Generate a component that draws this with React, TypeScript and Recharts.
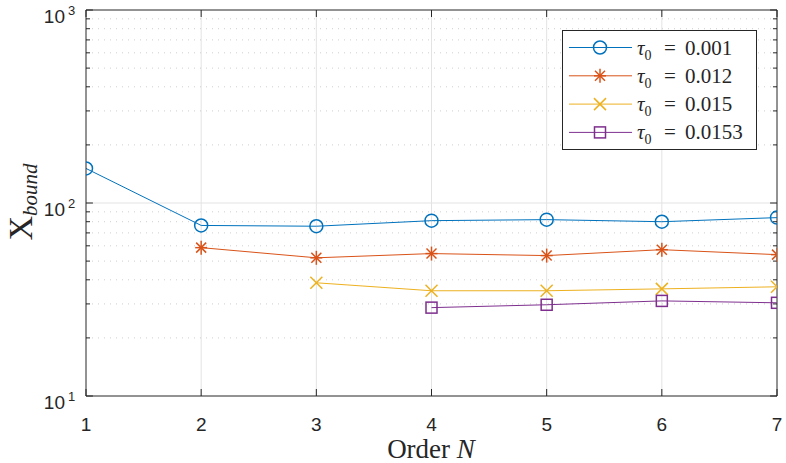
import { ComposedChart, Line, XAxis, YAxis, ReferenceLine } from "recharts";

// values
const orders = [1, 2, 3, 4, 5, 6, 7];
const tau001 = [151, 76.5, 75.8, 81, 82, 80, 84];
const tau012 = [null, 58.7, 52, 54.7, 53.4, 57.3, 54];
const tau015 = [null, null, 38.6, 35.1, 35.1, 35.9, 36.8];
const tau0153 = [null, null, null, 28.7, 29.7, 31.1, 30.4];

const yTicks = [10, 100, 1000];
const minorTicks = [20, 30, 40, 50, 60, 70, 80, 90, 200, 300, 400, 500, 600, 700, 800, 900];

const series = [
  { key: "t1", label: "0.001", color: "#0072BD", marker: "circle", values: tau001 },
  { key: "t2", label: "0.012", color: "#D95319", marker: "star", values: tau012 },
  { key: "t3", label: "0.015", color: "#EDB120", marker: "x", values: tau015 },
  { key: "t4", label: "0.0153", color: "#7E2F8E", marker: "square", values: tau0153 },
];

const data = orders.map((n, i) => {
  const row: any = { n };
  series.forEach(s => { row[s.key] = s.values[i]; });
  return row;
});

const axisColor = "#262626";
const sans = "'Liberation Sans', Arial, sans-serif";
const serif = "'Liberation Serif', 'DejaVu Serif', serif";

function Marker({ type, cx, cy, color }: any) {
  if (type === "circle") return <circle cx={cx} cy={cy} r={6.5} fill="none" stroke={color} strokeWidth={1.5} />;
  if (type === "square") return <rect x={cx - 5.5} y={cy - 5.5} width={11} height={11} fill="none" stroke={color} strokeWidth={1.5} />;
  if (type === "x") {
    return (
      <g stroke={color} strokeWidth={1.5}>
        <line x1={cx - 6} y1={cy - 6} x2={cx + 6} y2={cy + 6} />
        <line x1={cx - 6} y1={cy + 6} x2={cx + 6} y2={cy - 6} />
      </g>
    );
  }
  return (
    <g stroke={color} strokeWidth={1.5}>
      <line x1={cx - 6} y1={cy} x2={cx + 6} y2={cy} />
      <line x1={cx} y1={cy - 7} x2={cx} y2={cy + 7} />
      <line x1={cx - 5} y1={cy - 5} x2={cx + 5} y2={cy + 5} />
      <line x1={cx - 5} y1={cy + 5} x2={cx + 5} y2={cy - 5} />
    </g>
  );
}

const makeDot = (s: any) => (props: any) => {
  const { cx, cy, value, index } = props;
  if (value == null || cx == null || cy == null) return <g key={index} />;
  return <g key={index}><Marker type={s.marker} cx={cx} cy={cy} color={s.color} /></g>;
};

const YTick = ({ y, payload }: any) => {
  const exp = Math.round(Math.log10(payload.value));
  const yy = Math.max(y, 6);
  return (
    <g fill={axisColor} fontFamily={sans}>
      <text x={65} y={yy + 13} textAnchor="end" fontSize={19}>10</text>
      <text x={68} y={yy + 5} textAnchor="start" fontSize={13}>{exp}</text>
    </g>
  );
};

const XTick = ({ x, y, payload }: any) => (
  <text x={x} y={y + 27} textAnchor="middle" fontSize={19} fill={axisColor} fontFamily={sans}>
    {payload.value}
  </text>
);

const LegendBox = () => (
  <svg width={196} height={121} style={{ position: "absolute", left: 562, top: 30 }}>
    <rect x={0.5} y={0.5} width={194} height={119} fill="#fff" stroke={axisColor} strokeWidth={1} />
    {series.map((s, i) => {
      const y = 17.5 + i * 28.3;
      return (
        <g key={s.key}>
          <line x1={7} y1={y} x2={70} y2={y} stroke={s.color} strokeWidth={1} />
          <Marker type={s.marker} cx={38} cy={y} color={s.color} />
          <text y={y + 7} fontSize={21} fill={axisColor} fontFamily={serif}>
            <tspan x={75} fontStyle="italic">τ</tspan>
            <tspan fontSize={14} dy={5}>0</tspan>
            <tspan x={102} dy={-5}>=</tspan>
            <tspan x={123}>{s.label}</tspan>
          </text>
        </g>
      );
    })}
  </svg>
);

export default function App() {
  return (
    <div style={{ width: 786, height: 463, position: "relative", background: "#fff" }}>
      <style>{"body{margin:0}"}</style>
      <ComposedChart width={786} height={463} data={data} margin={{ top: 10, right: 9, left: 0, bottom: 0 }}>
        {[2, 3, 4, 5, 6].map(v => (
          <ReferenceLine key={"vx" + v} x={v} stroke="#e3e3e3" strokeWidth={1} />
        ))}
        {minorTicks.map(v => (
          <ReferenceLine key={"mg" + v} y={v} stroke="#cfcfcf" strokeDasharray="1 5" strokeWidth={1} />
        ))}
        <ReferenceLine y={100} stroke="#e3e3e3" strokeWidth={1} />
        {minorTicks.map(v => (
          <ReferenceLine key={"ml" + v} segment={[{ x: 1, y: v }, { x: 1.035, y: v }]} stroke={axisColor} strokeWidth={1} />
        ))}
        {minorTicks.map(v => (
          <ReferenceLine key={"mr" + v} segment={[{ x: 6.965, y: v }, { x: 7, y: v }]} stroke={axisColor} strokeWidth={1} />
        ))}
        {yTicks.map(v => (
          <ReferenceLine key={"jl" + v} segment={[{ x: 1, y: v }, { x: 1.06, y: v }]} stroke={axisColor} strokeWidth={1} />
        ))}
        {yTicks.map(v => (
          <ReferenceLine key={"jr" + v} segment={[{ x: 6.94, y: v }, { x: 7, y: v }]} stroke={axisColor} strokeWidth={1} />
        ))}
        {orders.map(v => (
          <ReferenceLine key={"xb" + v} segment={[{ x: v, y: 10 }, { x: v, y: 10.87 }]} stroke={axisColor} strokeWidth={1} />
        ))}
        {orders.map(v => (
          <ReferenceLine key={"xt" + v} segment={[{ x: v, y: 1000 }, { x: v, y: 920 }]} stroke={axisColor} strokeWidth={1} />
        ))}
        <ReferenceLine x={7} stroke={axisColor} strokeWidth={1} />
        <ReferenceLine y={1000} stroke={axisColor} strokeWidth={1} />
        <XAxis
          dataKey="n"
          type="number"
          domain={[1, 7]}
          ticks={orders}
          height={67}
          stroke={axisColor}
          tickLine={false}
          tick={<XTick />}
          allowDataOverflow
        />
        <YAxis
          scale="log"
          domain={[10, 1000]}
          ticks={yTicks}
          width={86}
          stroke={axisColor}
          tickLine={false}
          tick={<YTick />}
          allowDataOverflow
        />
        {series.map(s => (
          <Line
            key={s.key}
            dataKey={s.key}
            stroke={s.color}
            strokeWidth={1}
            dot={makeDot(s)}
            activeDot={false}
            connectNulls={false}
            isAnimationActive={false}
            type="linear"
          />
        ))}
      </ComposedChart>
      <svg width={786} height={463} style={{ position: "absolute", left: 0, top: 0, pointerEvents: "none" }}>
        <text x={431} y={458} textAnchor="middle" fontSize={27} fill={axisColor} fontFamily={serif}>
          Order <tspan fontStyle="italic">N</tspan>
        </text>
        <text transform="rotate(-90)" x={-202} y={32} textAnchor="middle" fontSize={34} fill={axisColor} fontFamily={serif}>
          X<tspan fontStyle="italic" fontSize={21} dy={5}>bound</tspan>
        </text>
      </svg>
      <LegendBox />
    </div>
  );
}
